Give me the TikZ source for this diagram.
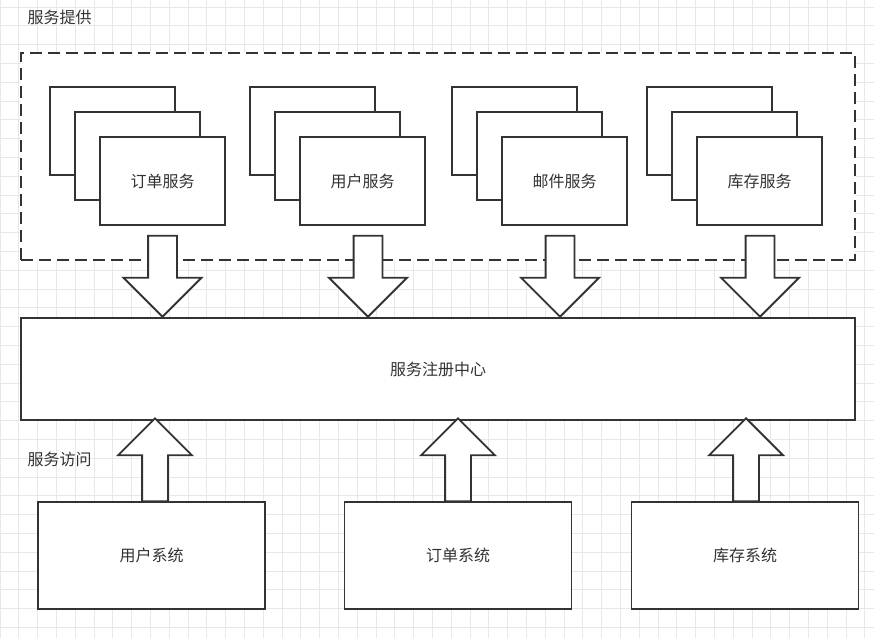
\documentclass[tikz,border=0pt]{standalone}
\usepackage{fontspec}
\usetikzlibrary{shapes.arrows}
\newfontfamily\cjk{Noto Sans CJK SC}
\definecolor{linegray}{HTML}{333333}
\definecolor{gridgray}{HTML}{E8E8E8}

\begin{document}
\begin{tikzpicture}[x=1pt, y=-1pt,
		every node/.style={font=\cjk\fontsize{16}{19}\selectfont, text=linegray},
		gridline/.style={draw=gridgray, line width=0.8pt},
		box/.style={draw=linegray, line width=1.8pt, fill=white, inner sep=0pt},
		svc/.style={box, minimum width=125pt, minimum height=88pt},
		sys/.style={box, minimum width=227pt, minimum height=107pt},
		fatdown/.style={single arrow, draw=linegray, line width=1.8pt, fill=white, inner xsep=0pt, inner ysep=13.5pt,
			single arrow head extend=24.5pt, minimum height=81pt, rotate=-90, anchor=tip},
		fatup/.style={single arrow, draw=linegray, line width=1.8pt, fill=white, inner xsep=0pt, inner ysep=12pt,
			single arrow head extend=24pt, minimum height=83pt, rotate=90, anchor=tip}]
			 \useasboundingbox (0,0) rectangle (874,638);
			 \fill[white] (0,0) rectangle (874,638);
			 \foreach \gx in {0,...,46} \draw[gridline] (\gx*18.8,0) -- (\gx*18.8,638);
			 \foreach \gy in {0,...,33} \draw[gridline] (0,7+\gy*18.8) -- (874,7+\gy*18.8);
			 \node[anchor=west] (provtitle)at(24,17) {服务提供};
			 \node[anchor=west] (visittitle)at(24,459) {服务访问};
			 \node[box, dash pattern=on 12pt off 6pt, minimum width=834pt, minimum height=207pt] (provide)at(438,156.5) {};
			 \node[svc] (s1c)at(112.5,131) {};
			 \node[svc] (s1b)at(137.5,156) {};
			 \node[svc] (s1)at(162.5,181) {订单服务};
			 \node[svc] (s2c)at(312.5,131) {};
			 \node[svc] (s2b)at(337.5,156) {};
			 \node[svc] (s2)at(362.5,181) {用户服务};
			 \node[svc] (s3c)at(514.5,131) {};
			 \node[svc] (s3b)at(539.5,156) {};
			 \node[svc] (s3)at(564.5,181) {邮件服务};
			 \node[svc] (s4c)at(709.5,131) {};
			 \node[svc] (s4b)at(734.5,156) {};
			 \node[svc] (s4)at(759.5,181) {库存服务};
			 \node[box, minimum width=834pt, minimum height=102pt] (reg)at(438,369) {服务注册中心};
			 \node[sys] (u1)at(151.5,555.5) {用户系统};
			 \node[sys] (u2)at(458,555.5) {订单系统};
			 \node[sys] (u3)at(745,555.5) {库存系统};
			 \node[fatdown] (d1)at(162.5,318) {};
			 \node[fatdown] (d2)at(368,318) {};
			 \node[fatdown] (d3)at(560,318) {};
			 \node[fatdown] (d4)at(760,318) {};
			 \node[fatup] (a1)at(155,417) {};
			 \node[fatup] (a2)at(458,417) {};
			 \node[fatup] (a3)at(746,417) {};
		\end{tikzpicture}
\end{document}
